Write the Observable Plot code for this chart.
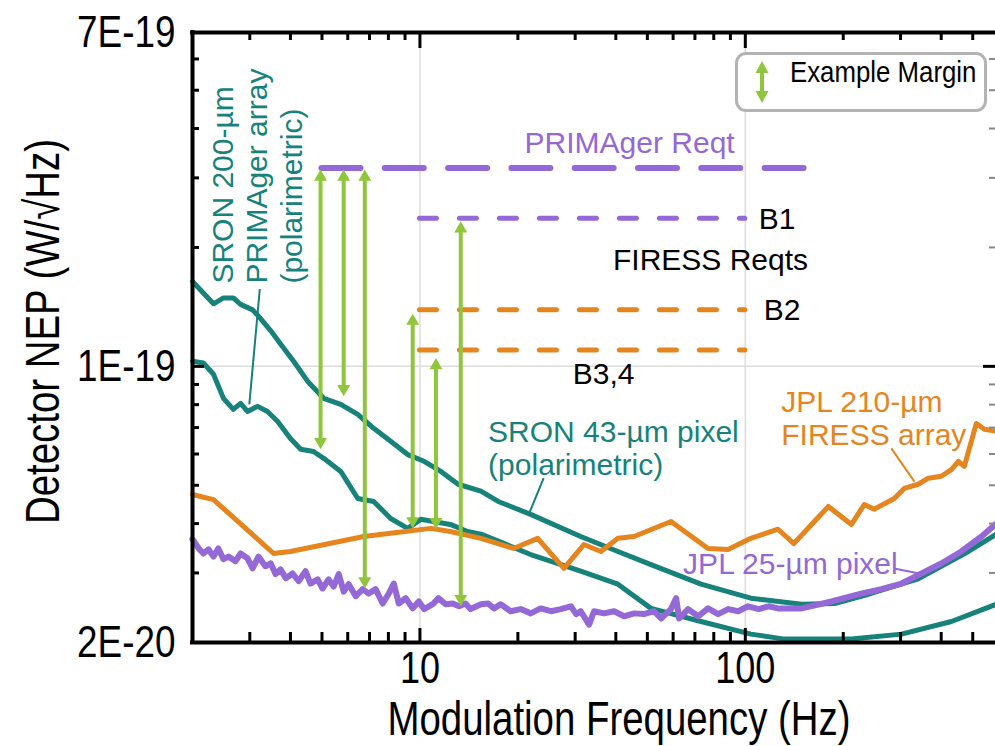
<!DOCTYPE html>
<html><head><meta charset="utf-8">
<script src="https://cdn.jsdelivr.net/npm/d3@7"></script>
<script src="https://cdn.jsdelivr.net/npm/@observablehq/plot@0.6"></script>
<style>
html,body{margin:0;padding:0;background:#fff;overflow:hidden;}
#wrap{position:relative;width:995px;height:746px;overflow:hidden;}
#legend{position:absolute;left:735px;top:52px;width:246px;height:54px;border:3px solid #b3b3b3;border-radius:11px;background:#fff;}
#legend svg{position:absolute;left:12px;top:0;}
#legend span{position:absolute;left:52px;top:0;line-height:54px;font:30px "Liberation Sans",Arial,sans-serif;color:#000;white-space:nowrap;transform:scaleX(0.86);transform-origin:left center;}
</style></head><body>
<div id="wrap">
<div id="legend"><svg width="24" height="54"><line x1="12" y1="16" x2="12" y2="38" stroke="#8fc63c" stroke-width="4"/><path d="M12,6 L18.5,18 L5.5,18 Z" fill="#8fc63c"/><path d="M12,48 L18.5,36 L5.5,36 Z" fill="#8fc63c"/></svg><span>Example Margin</span></div>
</div>
<script>
// ---- data (NEP in units of 1e-20 W/√Hz) ----
const UNIT = 1e-20;
// SRON 43-µm pixel (polarimetric)
const sron43Freq = [2.0,2.32,2.49,2.67,2.81,3.06,3.19,3.48,3.73,4.09,4.52,5.06,5.71,6.44,7.21,8.13,9.17,10.3,11.6,13.1,15.4,17.4,21.9,31.2,40.6,51.3,73.1,104,149,188,239,340,485,591];
const sron43Nep  = [16.4,14.4,14.9,14.9,14.35,13.9,13.4,12.3,11.4,10.3,9.16,8.30,8.01,7.56,6.97,6.46,5.98,5.75,5.42,5.03,4.83,4.55,4.22,3.71,3.40,3.15,2.81,2.59,2.50,2.51,2.65,2.90,3.40,3.76];
// SRON 200-µm PRIMAger array (polarimetric)
const sron200Freq = [2.0,2.16,2.32,2.49,2.67,2.81,2.95,3.17,3.40,3.65,4.0,4.30,4.71,5.06,5.71,6.44,7.21,8.13,9.17,10.06,11.0,12.4,14.0,15.4,17.4,21.9,31.2,40.6,51.3,73.1,104,132,212,302,430,591];
const sron200Nep  = [10.3,10.2,9.55,8.3,7.78,8.06,7.69,7.92,7.69,7.26,6.57,6.17,6.09,5.85,5.42,4.63,4.55,4.12,3.89,4.10,4.05,3.98,3.82,3.76,3.61,3.34,3.03,2.81,2.44,2.26,2.10,2.04,2.04,2.10,2.26,2.50];
// JPL 210-µm FIRESS array
const jpl210Freq = [2.0,2.32,3.55,4.0,6.72,8.13,10.8,12.4,15.4,19.4,23.0,27.7,31.9,36.0,40.6,45.5,59.1,76.8,88.5,104,126,141,180,212,232,249,287,308,340,365,400,430,452,471,513,543,591];
const jpl210Nep  = [4.74,4.60,3.36,3.40,3.71,3.78,3.89,3.82,3.67,3.46,3.67,3.08,3.54,3.40,3.67,3.71,4.05,3.46,3.44,3.67,3.87,3.56,4.42,3.98,4.47,4.35,4.63,4.91,5.03,5.21,5.27,5.48,5.75,5.58,7.17,6.93,6.85];
// JPL 25-µm pixel
const jpl25Freq = [2.00,2.09,2.16,2.24,2.32,2.40,2.49,2.58,2.71,2.81,2.95,3.06,3.19,3.35,3.48,3.60,3.73,3.87,4.06,4.24,4.45,4.61,4.85,5.02,5.24,5.43,5.63,5.83,6.04,6.35,6.67,6.96,7.31,7.68,8.02,8.31,8.61,9.04,9.50,9.92,10.3,10.95,11.4,12.0,12.6,13.2,13.8,14.3,15.4,16.2,16.9,17.7,19.0,20.4,21.9,23.5,25.3,27.1,29.1,30.2,31.2,33.1,34.3,36.8,39.5,42.4,45.5,48.8,52.4,55.1,59.1,61.3,62.6,66.7,71.6,76.8,82.5,88.6,95.0,102,110,118,126,149,184,227,262,302,348,400,461,532,591];
const jpl25Nep  = [3.65,3.46,3.36,3.44,3.30,3.46,3.25,3.30,3.21,3.36,3.27,3.08,3.30,3.12,3.17,2.98,3.06,2.91,2.99,2.86,3.03,2.82,2.89,2.74,2.89,2.77,2.98,2.69,2.81,2.62,2.73,2.66,2.73,2.51,2.66,2.82,2.51,2.59,2.44,2.54,2.43,2.50,2.59,2.50,2.51,2.47,2.51,2.43,2.50,2.51,2.44,2.50,2.40,2.43,2.37,2.44,2.40,2.43,2.47,2.36,2.40,2.22,2.40,2.37,2.40,2.33,2.37,2.36,2.40,2.30,2.43,2.59,2.30,2.43,2.33,2.44,2.36,2.43,2.40,2.47,2.43,2.47,2.44,2.44,2.54,2.66,2.73,2.82,2.99,3.17,3.40,3.71,4.00];

// Requirements (dashed)
const reqNames = ["PRIMAger Reqt", "B1", "B2", "B3,4"];
const reqFmin  = [5, 10, 10, 10];
const reqFmax  = [155, 100, 100, 100];
const reqNep   = [31.8, 23.7, 13.9, 11.0];

// Example margins (double arrows)
const marginFreq = [4.95, 5.83, 6.77, 9.5, 11.2, 13.35];
const marginTop  = [31.5, 31.5, 31.5, 13.6, 10.5, 23.3];
const marginBot  = [6.17, 8.4, 2.74, 3.89, 3.87, 2.47];

// Axis ticks
const yTickVals = [2e-20, 1e-19, 7e-19];
const yTickLabels = ["2E-20", "1E-19", "7E-19"];
const xTickVals = [10, 100];
const xTickLabels = ["10", "100"];
const xMinor = [3,4,5,6,7,8,9,20,30,40,50,60,70,80,90,200,300,400,500];
const yMinor = [3e-20,4e-20,5e-20,6e-20,7e-20,8e-20,9e-20,2e-19,3e-19,4e-19,5e-19,6e-19];
const xTitle = "Modulation Frequency (Hz)";
const yTitle = "Detector NEP (W/√Hz)";

// Annotation texts
const annText = ["SRON 43-µm pixel\n(polarimetric)", "JPL 210-µm\nFIRESS array", "JPL 25-µm pixel", "FIRESS Reqts", "B1", "B2", "B3,4"];
const annFreq = [16.2, 129, 64.4, 39.2, 110, 114, 29.5];
const annNep  = [6.22, 7.42, 3.17, 18.7, 23.7, 13.9, 9.6];
const annKind = ["sron", "jpl210", "jpl25", "black", "black", "black", "black"];
const sron200Label = "SRON 200-µm\nPRIMAger array\n(polarimetric)";

// Leader lines
const leadX1 = [3.22, 24.0, 281, 287];
const leadY1 = [15.7, 5.21, 6.20, 3.08];
const leadX2 = [2.99, 21.6, 331, 348];
const leadY2 = [8.01, 4.22, 5.11, 2.98];
const leadKind = ["sron", "sron", "jpl210", "jpl25"];

// ---- styles ----
const TEAL = "#16827a", ORANGE = "#e6851e", PURPLE = "#9468d6", GREEN = "#8fc63c";
const kindColor = {sron: TEAL, jpl210: ORANGE, jpl25: PURPLE, black: "#000"};
const SANS = "'Liberation Sans',Arial,sans-serif";

const rows = (fs, ns) => fs.map((f, i) => ({f, n: ns[i] * UNIT}));
const sron43 = rows(sron43Freq, sron43Nep);
const sron200 = rows(sron200Freq, sron200Nep);
const jpl210 = rows(jpl210Freq, jpl210Nep);
const jpl25 = rows(jpl25Freq, jpl25Nep);
const reqs = reqNames.map((name, i) => ({name, f1: reqFmin[i], f2: reqFmax[i], n: reqNep[i] * UNIT}));
const margins = marginFreq.map((f, i) => ({f, top: marginTop[i] * UNIT, bot: marginBot[i] * UNIT}));
const anns = annText.map((t, i) => ({t, f: annFreq[i], n: annNep[i] * UNIT, c: kindColor[annKind[i]]}));
const leads = leadX1.map((x1, i) => ({x1, y1: leadY1[i] * UNIT, x2: leadX2[i], y2: leadY2[i] * UNIT, c: kindColor[leadKind[i]]}));
const yTicks = yTickVals.map((v, i) => ({v, label: yTickLabels[i]}));

const chart = Plot.plot({
  width: 995, height: 746,
  marginLeft: 192, marginRight: 0, marginTop: 32, marginBottom: 104,
  x: {type: "log", domain: [2, 600], range: [192, 998], axis: null},
  y: {type: "log", domain: [2e-20, 7e-19], axis: null},
  style: {fontFamily: SANS, background: "transparent"},
  marks: [
    // grid
    Plot.ruleX(xTickVals, {x: d => d, stroke: "#dcdcdc", strokeWidth: 1.5}),
    Plot.ruleY([1e-19], {y: d => d, stroke: "#dcdcdc", strokeWidth: 1.5}),
    // requirement dashes
    Plot.ruleY(reqs.filter(d => d.name === "PRIMAger Reqt"), {y: "n", x1: "f1", x2: "f2", stroke: PURPLE, strokeWidth: 6, strokeDasharray: "39,24.3", strokeLinecap: "round"}),
    Plot.ruleY(reqs.filter(d => d.name !== "PRIMAger Reqt"), {y: "n", x1: "f1", x2: "f2", stroke: d => d.name === "B1" ? PURPLE : ORANGE, strokeWidth: 5, strokeDasharray: "17,23", strokeLinecap: "round"}),
    // data curves
    Plot.line(sron200, {x: "f", y: "n", stroke: TEAL, strokeWidth: 5, strokeLinejoin: "round"}),
    Plot.line(sron43, {x: "f", y: "n", stroke: TEAL, strokeWidth: 5, strokeLinejoin: "round"}),
    Plot.line(jpl210, {x: "f", y: "n", stroke: ORANGE, strokeWidth: 5, strokeLinejoin: "round"}),
    Plot.line(jpl25, {x: "f", y: "n", stroke: PURPLE, strokeWidth: 6, strokeLinejoin: "round"}),
    // leader lines
    Plot.link(leads, {x1: "x1", y1: "y1", x2: "x2", y2: "y2", stroke: d => d.c, strokeWidth: 2}),
    // margin arrows
    Plot.ruleX(margins, {x: "f", y1: "top", y2: "bot", stroke: GREEN, strokeWidth: 4, insetTop: 9, insetBottom: 9}),
    Plot.dot(margins, {x: "f", y: "top", symbol: "triangle", r: 4.8, fill: GREEN, stroke: "none", dy: 7.5}),
    Plot.dot(margins, {x: "f", y: "bot", symbol: "triangle", r: 4.8, fill: GREEN, stroke: "none", rotate: 180, dy: -7.5}),
    // annotations
    Plot.text(reqs.filter(d => d.name === "PRIMAger Reqt"), {x: 44.1, y: 34.6 * UNIT, text: "name", fill: PURPLE, fontSize: 30, lineAnchor: "bottom", textAnchor: "middle"}),
    Plot.text(anns, {x: "f", y: "n", text: "t", fill: d => d.c, fontSize: 30, lineHeight: 1.1, lineAnchor: "middle", textAnchor: "start"}),
    Plot.text([sron200Label], {x: 2.24, y: 16.2 * UNIT, text: d => d, rotate: -90, fill: TEAL, fontSize: 30, lineHeight: 1.15, lineAnchor: "top", textAnchor: "start"}),
    // ticks (inward)
    Plot.ruleX(xMinor, {x: d => d, insetTop: 600, stroke: "#000", strokeWidth: 3}),
    Plot.ruleX(xTickVals, {x: d => d, insetTop: 596, stroke: "#000", strokeWidth: 3}),
    Plot.ruleX(xMinor, {x: d => d, insetBottom: 602, stroke: "#000", strokeWidth: 3}),
    Plot.ruleX(xTickVals, {x: d => d, insetBottom: 594, stroke: "#000", strokeWidth: 3}),
    Plot.ruleY(yMinor, {y: d => d, insetRight: 796, stroke: "#000", strokeWidth: 3}),
    Plot.ruleY([1e-19], {y: d => d, insetRight: 791, stroke: "#000", strokeWidth: 3}),
    Plot.ruleY(yMinor, {y: d => d, insetLeft: 797, stroke: "#888", strokeWidth: 2}),
    Plot.ruleY([1e-19], {y: d => d, insetLeft: 791, stroke: "#000", strokeWidth: 3}),
    // frame
    Plot.ruleY([2e-20, 7e-19], {y: d => d, stroke: "#000", strokeWidth: 4, strokeLinecap: "square"}),
    Plot.ruleX([2], {x: d => d, stroke: "#000", strokeWidth: 4, strokeLinecap: "square"}),
    // tick labels
    Plot.text(yTicks, {y: "v", text: "label", frameAnchor: "left", dx: -17, textAnchor: "end", lineAnchor: "middle", fontSize: 45, fill: "#000"}),
    Plot.axisX({ticks: xTickVals, tickFormat: d => xTickLabels[xTickVals.indexOf(d)], tickSize: 0, tickPadding: 9, fontSize: 45, label: null, fill: "#000"}),
    // axis titles
    Plot.text([yTitle], {text: d => d, frameAnchor: "left", dx: -149, dy: -6, rotate: -90, textAnchor: "middle", lineAnchor: "middle", fontSize: 48, fill: "#000"}),
    Plot.text([xTitle], {text: d => d, frameAnchor: "bottom", dx: 25, dy: 77, textAnchor: "middle", lineAnchor: "middle", fontSize: 48, fill: "#000"})
  ]
});
document.getElementById("wrap").prepend(chart);

// condensed look for axis texts (horizontal squeeze in each text's own frame)
function squeeze(strings, s, origin) {
  d3.select(chart).selectAll("text").filter(function() { return strings.includes(this.textContent); }).each(function() {
    const t = this.getAttribute("transform");
    if (t) this.setAttribute("transform", t + ` scale(${s},1)`);
    else {
      this.style.transformBox = "fill-box";
      this.style.transformOrigin = origin;
      this.style.transform = `scaleX(${s})`;
    }
  });
}
squeeze(yTickLabels, 0.82, "right center");
squeeze(xTickLabels, 0.8, "center");
squeeze([xTitle, yTitle], 0.8, "center");
</script>
</body></html>
